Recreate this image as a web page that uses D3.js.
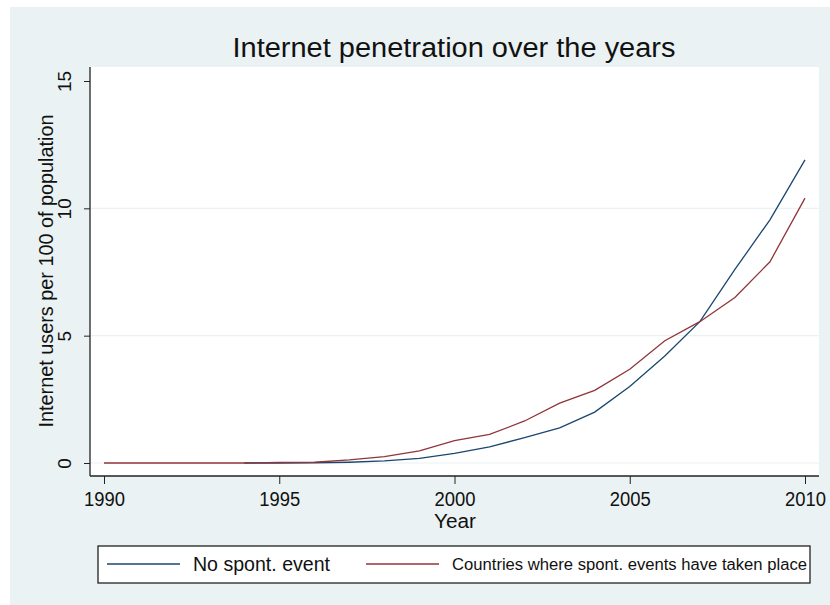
<!DOCTYPE html>
<meta charset="utf-8">
<script src="https://d3js.org/d3.v7.min.js"></script>
<style>
body { margin: 0; background: #fff; }
text { font-family: "Liberation Sans", Arial, sans-serif; fill: #111; }
</style>
<div id="chart"></div>
<script>
// data
const years = d3.range(1990, 2011);
const noEvent = [null, null, null, null, 0.0, 0.0, 0.01, 0.03, 0.08, 0.18, 0.38, 0.63, 1.0, 1.38, 2.0, 3.0, 4.2, 5.55, 7.6, 9.55, 11.9];
const withEvent = [0, 0, 0, 0, 0, 0.02, 0.03, 0.12, 0.25, 0.48, 0.88, 1.12, 1.65, 2.35, 2.85, 3.68, 4.8, 5.55, 6.5, 7.9, 10.4];
const xTicks = [1990, 1995, 2000, 2005, 2010];
const yTicks = [0, 5, 10, 15];
const gridTicks = [0, 5, 10];
const seriesNames = ["No spont. event", "Countries where spont. events have taken place"];
const seriesColors = ["#1a476f", "#90353b"];

const W = 830, H = 605;
const svg = d3.select("#chart").append("svg").attr("width", W).attr("height", H);

// graph region background
svg.append("rect").attr("x", 10).attr("y", 7).attr("width", W - 10).attr("height", H - 7)
  .attr("fill", "#eaf2f3");

// plot region
const plot = {left: 90, right: 819, top: 67, bottom: 476};
svg.append("rect").attr("x", plot.left).attr("y", plot.top)
  .attr("width", plot.right - plot.left).attr("height", plot.bottom - plot.top)
  .attr("fill", "#fff");

const x = d3.scaleLinear().domain([1990, 2010]).range([104, 805]);
const y = d3.scaleLinear().domain([0, 15]).range([463, 81]);

// gridlines
svg.append("g").selectAll("line").data(gridTicks).join("line")
  .attr("x1", plot.left).attr("x2", plot.right)
  .attr("y1", d => y(d)).attr("y2", d => y(d))
  .attr("stroke", "#eaf2f3").attr("stroke-width", 1.2);

// lines (blue first, red on top)
const rows = years.map((yr, i) => ({yr, a: noEvent[i], b: withEvent[i]}));
const mkLine = key => d3.line().defined(d => d[key] != null).x(d => x(d.yr)).y(d => y(d[key]));
svg.append("path").datum(rows).attr("d", mkLine("a"))
  .attr("fill", "none").attr("stroke", seriesColors[0]).attr("stroke-width", 1.3);
svg.append("path").datum(rows).attr("d", mkLine("b"))
  .attr("fill", "none").attr("stroke", seriesColors[1]).attr("stroke-width", 1.3);

// y axis
const yAxis = svg.append("g").attr("transform", `translate(${plot.left},0)`)
  .call(d3.axisLeft(y).tickValues(yTicks).tickSize(6).tickSizeOuter(0).tickFormat(d3.format("d")));
yAxis.select(".domain").attr("d", `M0,${plot.top}V${plot.bottom}`).attr("stroke", "#222").attr("stroke-width", 1.3);
yAxis.selectAll(".tick line").attr("stroke", "#222");
yAxis.selectAll(".tick text")
  .attr("x", null).attr("dy", null)
  .attr("transform", "translate(-19,0) rotate(-90)")
  .attr("text-anchor", "middle")
  .style("font-size", "19px").style("font-family", "Liberation Sans, Arial, sans-serif").attr("fill", "#111");

// x axis
const xAxis = svg.append("g").attr("transform", `translate(0,${plot.bottom})`)
  .call(d3.axisBottom(x).tickValues(xTicks).tickSize(8).tickSizeOuter(0).tickFormat(d3.format("d")));
xAxis.select(".domain").attr("d", `M${plot.left},0H${plot.right}`).attr("stroke", "#222").attr("stroke-width", 1.3);
xAxis.selectAll(".tick line").attr("stroke", "#222");
xAxis.selectAll(".tick text")
  .attr("y", 30).attr("dy", null)
  .attr("textLength", 41).attr("lengthAdjust", "spacingAndGlyphs")
  .style("font-size", "20px").style("font-family", "Liberation Sans, Arial, sans-serif").attr("fill", "#111");

// title
svg.append("text").attr("x", 454).attr("y", 57).attr("text-anchor", "middle")
  .attr("textLength", 443).attr("lengthAdjust", "spacingAndGlyphs")
  .style("font-size", "27px").attr("fill", "#1e2a3a")
  .text("Internet penetration over the years");

// axis titles
svg.append("text").attr("x", 455).attr("y", 528).attr("text-anchor", "middle")
  .attr("textLength", 42).attr("lengthAdjust", "spacingAndGlyphs")
  .style("font-size", "20px").text("Year");
svg.append("text").attr("transform", "translate(53,271) rotate(-90)").attr("text-anchor", "middle")
  .attr("textLength", 313).attr("lengthAdjust", "spacingAndGlyphs")
  .style("font-size", "20px").text("Internet users per 100 of population");

// legend
const lg = svg.append("g");
lg.append("rect").attr("x", 98).attr("y", 546).attr("width", 712).attr("height", 37)
  .attr("fill", "#fff").attr("stroke", "#222").attr("stroke-width", 1.3);
const legendItems = [
  {name: seriesNames[0], color: seriesColors[0], x1: 107, x2: 180, tx: 193, size: 21, len: 137},
  {name: seriesNames[1], color: seriesColors[1], x1: 366, x2: 439, tx: 452, size: 16, len: 355}
];
legendItems.forEach(it => {
  lg.append("line").attr("x1", it.x1).attr("x2", it.x2).attr("y1", 564).attr("y2", 564)
    .attr("stroke", it.color).attr("stroke-width", 1.3);
  lg.append("text").attr("x", it.tx).attr("y", 564).attr("dy", "0.35em")
    .attr("textLength", it.len).attr("lengthAdjust", "spacingAndGlyphs")
    .style("font-size", it.size + "px").text(it.name);
});
</script>
